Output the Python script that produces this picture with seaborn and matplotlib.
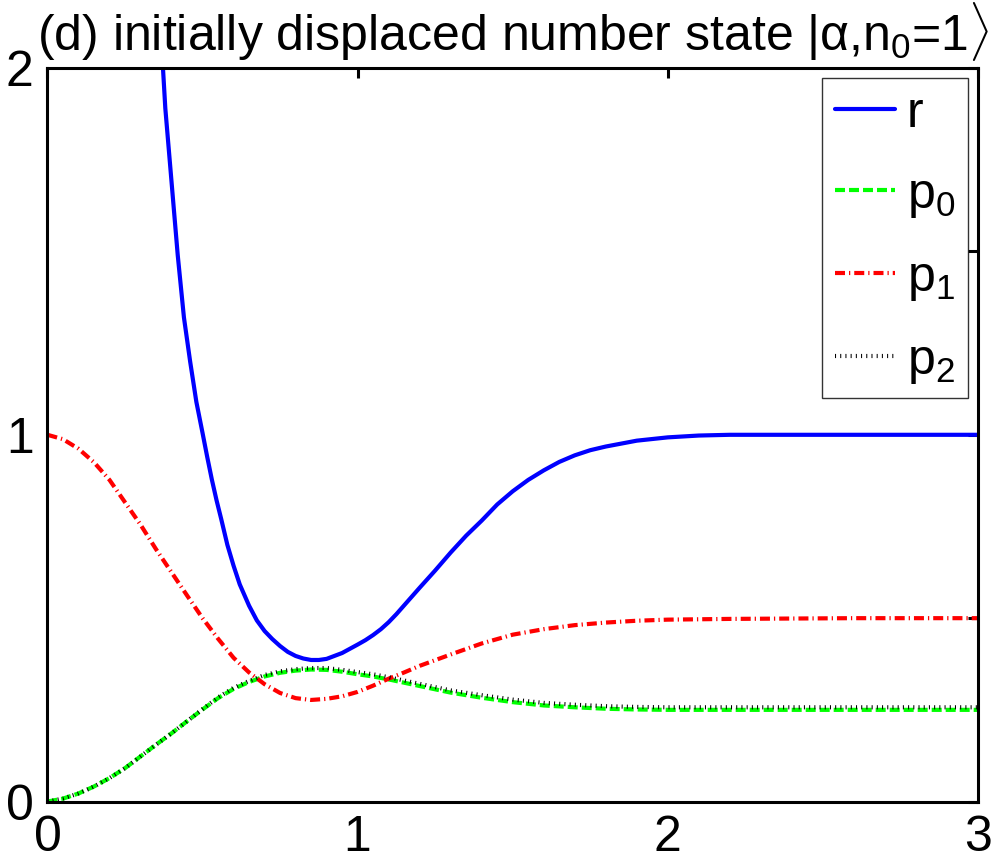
import numpy as np
import pandas as pd
import matplotlib
matplotlib.use("Agg")
import matplotlib.pyplot as plt
import seaborn as sns

# values
t = [0, 0.05, 0.1, 0.15, 0.2, 0.25, 0.3, 0.35, 0.4, 0.45, 0.5, 0.55, 0.6, 0.65,
     0.7, 0.75, 0.8, 0.85, 0.9, 0.95, 1.0, 1.05, 1.1, 1.15, 1.2, 1.3, 1.4, 1.5,
     1.6, 1.7, 1.8, 1.9, 2.0, 2.1, 2.2, 2.4, 2.6, 2.8, 3.0]
p0 = [0.0, 0.008, 0.022, 0.041, 0.064, 0.091, 0.123, 0.155, 0.186, 0.219, 0.251,
      0.282, 0.307, 0.326, 0.341, 0.351, 0.357, 0.360, 0.359, 0.354, 0.347, 0.341,
      0.333, 0.324, 0.315, 0.297, 0.283, 0.271, 0.262, 0.257, 0.253, 0.251, 0.250,
      0.250, 0.250, 0.250, 0.250, 0.250, 0.250]
p1 = [1.0, 0.988, 0.962, 0.925, 0.877, 0.816, 0.755, 0.688, 0.625, 0.562, 0.500,
      0.444, 0.392, 0.352, 0.320, 0.296, 0.282, 0.277, 0.280, 0.287, 0.299, 0.316,
      0.335, 0.352, 0.370, 0.401, 0.431, 0.455, 0.470, 0.481, 0.488, 0.493, 0.496,
      0.497, 0.498, 0.499, 0.500, 0.500, 0.500]
p2 = [0.0, 0.008, 0.022, 0.041, 0.064, 0.091, 0.123, 0.155, 0.186, 0.219, 0.252,
      0.284, 0.310, 0.329, 0.345, 0.355, 0.361, 0.364, 0.364, 0.359, 0.353, 0.347,
      0.339, 0.330, 0.321, 0.303, 0.290, 0.278, 0.269, 0.264, 0.260, 0.258, 0.257,
      0.257, 0.257, 0.257, 0.257, 0.257, 0.257]

t_r = [0.36, 0.38, 0.40, 0.42, 0.44, 0.46, 0.48, 0.50, 0.515, 0.53, 0.545, 0.56,
       0.58, 0.60, 0.62, 0.65, 0.675, 0.70, 0.725, 0.75, 0.775, 0.80, 0.825, 0.85,
       0.875, 0.90, 0.95, 1.0, 1.025, 1.05, 1.075, 1.1, 1.125, 1.15, 1.175, 1.2,
       1.25, 1.3, 1.35, 1.4, 1.45, 1.5, 1.55, 1.6, 1.65, 1.7, 1.75, 1.8, 1.9, 2.0,
       2.1, 2.2, 2.4, 2.6, 2.8, 3.0]
r = [2.18, 1.89, 1.69, 1.49, 1.32, 1.20, 1.09, 1.005, 0.940, 0.878, 0.822, 0.771,
     0.700, 0.643, 0.592, 0.534, 0.494, 0.465, 0.443, 0.424, 0.408, 0.397, 0.390,
     0.386, 0.386, 0.389, 0.405, 0.428, 0.440, 0.454, 0.470, 0.489, 0.511, 0.535,
     0.559, 0.583, 0.630, 0.679, 0.725, 0.766, 0.810, 0.846, 0.877, 0.903, 0.926,
     0.944, 0.958, 0.968, 0.984, 0.993, 0.998, 1.0, 1.0, 1.0, 1.0, 1.0]

title = r"(d) initially displaced number state |$\mathrm{\alpha}$,n$_0$=1$\rangle$"

sns.set_theme(style="white")
plt.rcParams['font.family'] = ['Liberation Sans', 'DejaVu Sans']
plt.rcParams['mathtext.fontset'] = 'custom'
plt.rcParams['mathtext.rm'] = 'Liberation Sans'
plt.rcParams['mathtext.it'] = 'Liberation Sans'
plt.rcParams['mathtext.bf'] = 'Liberation Sans:bold'
plt.rcParams['text.color'] = 'black'
plt.rcParams['xtick.color'] = 'black'
plt.rcParams['ytick.color'] = 'black'

df = pd.DataFrame({"t": t, "p0": p0, "p1": p1, "p2": p2})
df_r = pd.DataFrame({"t": t_r, "r": r})

fig = plt.figure(figsize=(9.97, 8.67), dpi=100)
ax = fig.add_axes([0.0476, 0.0755, 0.9333, 0.846])

lw = 3.0
sns.lineplot(data=df_r, x="t", y="r", ax=ax, color="#0000ff", linewidth=lw,
             label="r", sort=False)
sns.lineplot(data=df, x="t", y="p0", ax=ax, color="#00ff00", linewidth=lw,
             linestyle=(0, (2.4, 0.96)), label="p$_0$", sort=False)
sns.lineplot(data=df, x="t", y="p1", ax=ax, color="#ff0000", linewidth=lw,
             linestyle=(0, (2.4, 0.96, 0.3, 0.96)), label="p$_1$", sort=False)
sns.lineplot(data=df, x="t", y="p2", ax=ax, color="black", linewidth=lw,
             linestyle=(0, (0.25, 1.0)), label="p$_2$", sort=False)

ax.set_xlim(0, 3)
ax.set_ylim(0, 2)
ax.set_xticks([0, 1, 2, 3])
ax.set_yticks([0, 0.5, 1, 1.5, 2])
ax.set_yticklabels(["0", "", "1", "", "2"])
ax.set_xlabel("")
ax.set_ylabel("")
ax.tick_params(direction="in", length=7, width=2.2, top=True, right=True,
               labelsize=36, pad=10, colors="black")
for s in ax.spines.values():
    s.set_linewidth(2.2)
    s.set_color("black")

ax.set_title(title, fontsize=36, pad=13, color="black")

leg = ax.legend(loc="upper right", fontsize=36, frameon=True, fancybox=False,
                edgecolor="black", handlelength=1.2, handletextpad=0.25,
                labelspacing=0.7, borderaxespad=0.2, borderpad=0.25)
leg.get_frame().set_linewidth(1.0)

fig.savefig("out.png", dpi=100)
